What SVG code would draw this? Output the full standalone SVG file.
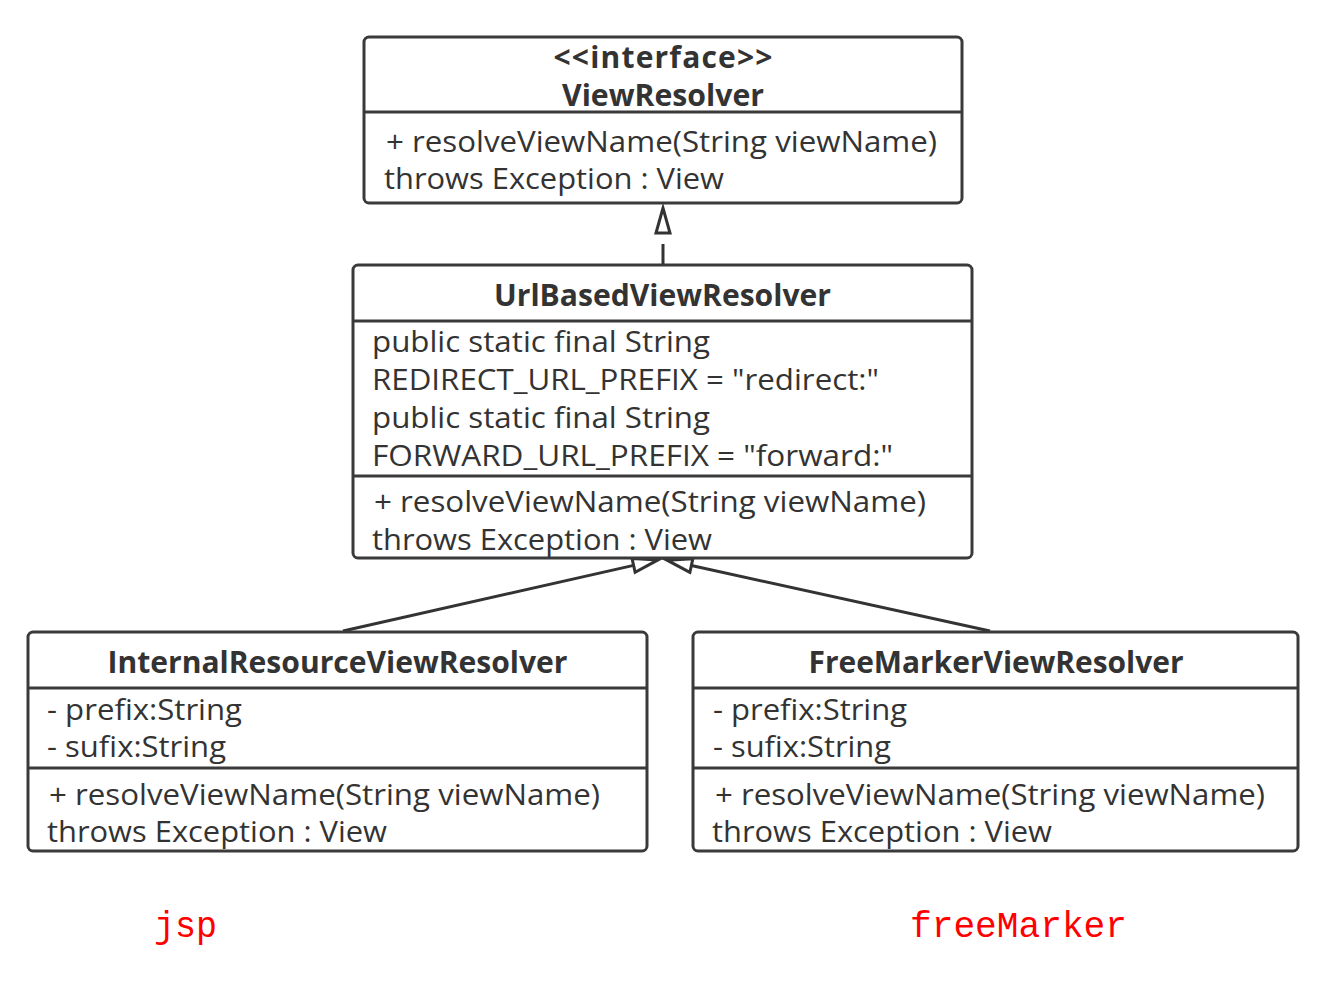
<svg xmlns="http://www.w3.org/2000/svg" width="1340" height="983" viewBox="0 0 1340 983">
<style>
.box{fill:#fff;stroke:#3a3a3a;stroke-width:3}
.div{stroke:#3a3a3a;stroke-width:3}
.t{font-family:"Open Sans","Noto Sans","DejaVu Sans",sans-serif;font-size:30px;fill:#333}
.b{font-weight:bold;text-anchor:middle}
.conn{fill:none;stroke:#333;stroke-width:3}
.red{font-family:"Liberation Mono","DejaVu Sans Mono",monospace;font-size:36px;fill:#f00}
</style>
<defs>
<marker id="tri" markerUnits="userSpaceOnUse" markerWidth="30" markerHeight="20" viewBox="-2 -3 30 20" refX="0" refY="7" orient="auto" overflow="visible">
<path d="M0,0 L25,7 L0,14 Z" fill="#fff" stroke="#333" stroke-width="3" stroke-linejoin="miter"/>
</marker>
</defs>
<rect width="1340" height="983" fill="#fff"/>
<g id="connectors">
<path class="conn" d="M663,264 L663,233" stroke-dasharray="20 12" marker-end="url(#tri)"/>
<path class="conn" d="M343,631 L633.6,565.4" marker-end="url(#tri)"/>
<path class="conn" d="M990,631 L691.4,565.5" marker-end="url(#tri)"/>
</g>
<g id="ViewResolver">
<rect class="box" x="364" y="37" width="598" height="166" rx="5"/>
<line class="div" x1="364" y1="112" x2="962" y2="112"/>
<text class="t b" x="663" y="68" textLength="219" lengthAdjust="spacing">&lt;&lt;interface&gt;&gt;</text>
<text class="t b" x="663" y="106" textLength="202" lengthAdjust="spacingAndGlyphs">ViewResolver</text>
<text class="t" x="386" y="152" textLength="551" lengthAdjust="spacingAndGlyphs">+ resolveViewName(String viewName)</text>
<text class="t" x="384" y="189" textLength="340" lengthAdjust="spacingAndGlyphs">throws Exception : View</text>
</g>
<g id="UrlBasedViewResolver">
<rect class="box" x="353" y="265" width="619" height="293" rx="5"/>
<line class="div" x1="353" y1="321" x2="972" y2="321"/>
<line class="div" x1="353" y1="476" x2="972" y2="476"/>
<text class="t b" x="662.5" y="306" textLength="337" lengthAdjust="spacingAndGlyphs">UrlBasedViewResolver</text>
<text class="t" x="372" y="352" textLength="338" lengthAdjust="spacingAndGlyphs">public static final String</text>
<text class="t" x="372" y="390" textLength="507" lengthAdjust="spacingAndGlyphs">REDIRECT_URL_PREFIX = "redirect:"</text>
<text class="t" x="372" y="428" textLength="338" lengthAdjust="spacingAndGlyphs">public static final String</text>
<text class="t" x="372" y="466" textLength="521" lengthAdjust="spacingAndGlyphs">FORWARD_URL_PREFIX = "forward:"</text>
<text class="t" x="374" y="512" textLength="552" lengthAdjust="spacingAndGlyphs">+ resolveViewName(String viewName)</text>
<text class="t" x="372" y="550" textLength="340" lengthAdjust="spacingAndGlyphs">throws Exception : View</text>
</g>
<g id="InternalResourceViewResolver">
<rect class="box" x="28" y="632" width="619" height="219" rx="5"/>
<line class="div" x1="28" y1="688" x2="647" y2="688"/>
<line class="div" x1="28" y1="768" x2="647" y2="768"/>
<text class="t b" x="337.5" y="673" textLength="460" lengthAdjust="spacingAndGlyphs">InternalResourceViewResolver</text>
<text class="t" x="47" y="720" textLength="195" lengthAdjust="spacingAndGlyphs">- prefix:String</text>
<text class="t" x="47" y="757" textLength="179" lengthAdjust="spacingAndGlyphs">- sufix:String</text>
<text class="t" x="49" y="805" textLength="551" lengthAdjust="spacingAndGlyphs">+ resolveViewName(String viewName)</text>
<text class="t" x="47" y="842" textLength="340" lengthAdjust="spacingAndGlyphs">throws Exception : View</text>
</g>
<g id="FreeMarkerViewResolver">
<rect class="box" x="693" y="632" width="605" height="219" rx="5"/>
<line class="div" x1="693" y1="688" x2="1298" y2="688"/>
<line class="div" x1="693" y1="768" x2="1298" y2="768"/>
<text class="t b" x="996" y="673" textLength="375" lengthAdjust="spacingAndGlyphs">FreeMarkerViewResolver</text>
<text class="t" x="713" y="720" textLength="194" lengthAdjust="spacingAndGlyphs">- prefix:String</text>
<text class="t" x="713" y="757" textLength="178" lengthAdjust="spacingAndGlyphs">- sufix:String</text>
<text class="t" x="715" y="805" textLength="550" lengthAdjust="spacingAndGlyphs">+ resolveViewName(String viewName)</text>
<text class="t" x="712" y="842" textLength="340" lengthAdjust="spacingAndGlyphs">throws Exception : View</text>
</g>
<g id="labels">
<text class="red" x="154" y="937" textLength="63" lengthAdjust="spacingAndGlyphs">jsp</text>
<text class="red" x="910" y="937" textLength="217" lengthAdjust="spacingAndGlyphs">freeMarker</text>
</g>
</svg>
